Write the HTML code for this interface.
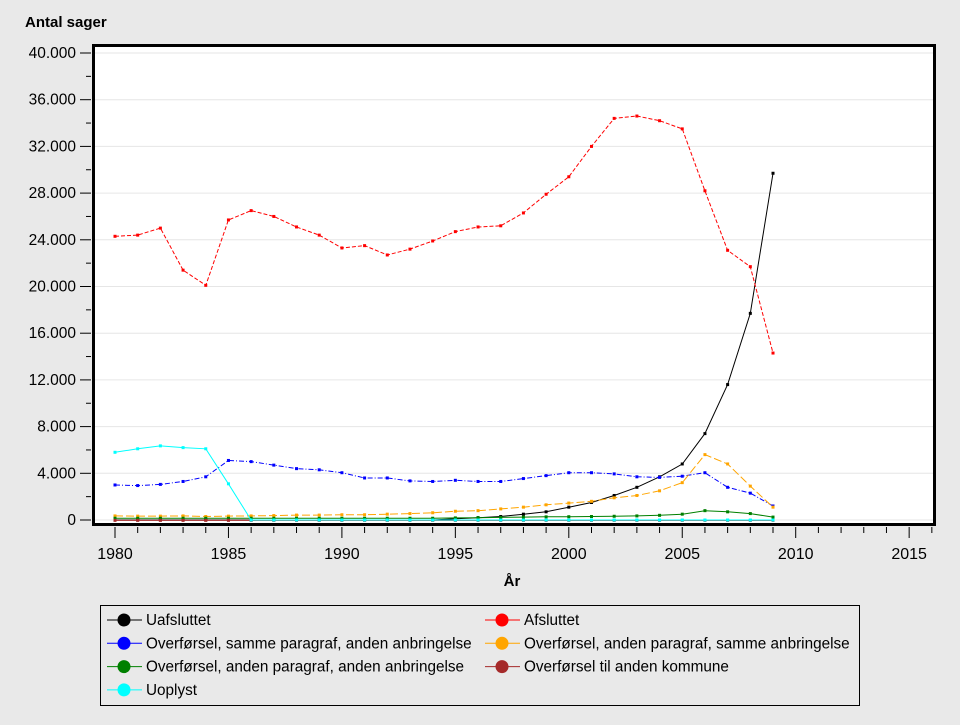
<!DOCTYPE html><html><head><style>body{margin:0;background:#e9e9e9;font-family:"Liberation Sans",sans-serif}</style></head><body>
<svg id="s" width="960" height="720" xmlns="http://www.w3.org/2000/svg" font-family="Liberation Sans, sans-serif">
<rect width="960" height="720" fill="#e9e9e9"/>
<text x="25" y="27" font-size="15" font-weight="bold">Antal sager</text>
<rect x="93.5" y="45.5" width="841" height="479" fill="#fff" stroke="#000" stroke-width="3"/>
<g id="g"></g>
<text x="512" y="586" font-size="15" font-weight="bold" text-anchor="middle">År</text>
<rect x="100.5" y="605.5" width="759" height="100" fill="#e9e9e9" stroke="#000"/>
<g id="lg" font-size="15.3"></g>
</svg>
<script>
const g=document.getElementById('g'),lg=document.getElementById('lg');
const X=y=>115+(y-1980)*22.69,Y=v=>520-v*11.675;
let h='';
for(let i=0;i<=10;i++){let y=Y(i*4);h+=`<line x1="95" x2="933" y1="${y}" y2="${y}" stroke="#e6e6e6"/><line x1="80" x2="91" y1="${y}" y2="${y}" stroke="#000"/><text x="76" y="${y+5}" font-size="15.5" text-anchor="end">${i==0?'0':(i*4)+'.000'}</text>`;
 if(i<10){let y2=Y(i*4+2);h+=`<line x1="86" x2="91" y1="${y2}" y2="${y2}" stroke="#000"/>`;}}
for(let yr=1980;yr<=2016;yr++){let x=X(yr);let big=yr%5==0;h+=`<line x1="${x}" x2="${x}" y1="527" y2="${big?538:533}" stroke="#000"/>`;if(big)h+=`<text x="${x}" y="559" font-size="16" text-anchor="middle">${yr}</text>`;}
const S=[
['#000','',[0,0,0,0,0,0,0,0,0,0,0,0,0,0,0,0.1,0.2,0.3,0.5,0.7,1.1,1.5,2.1,2.8,3.7,4.8,7.4,11.6,17.7,29.7]],
['#f00','4,2',[24.3,24.4,25.0,21.4,20.1,25.7,26.5,26.0,25.1,24.4,23.3,23.5,22.7,23.2,23.9,24.7,25.1,25.2,26.3,27.9,29.4,32.0,34.4,34.6,34.2,33.5,28.2,23.1,21.7,14.3]],
['#00f','5,2,1,2',[3.0,2.95,3.05,3.3,3.7,5.1,5.0,4.7,4.4,4.3,4.05,3.6,3.6,3.35,3.3,3.4,3.3,3.3,3.55,3.8,4.05,4.05,3.95,3.7,3.65,3.75,4.05,2.8,2.3,1.2]],
['#ffa500','8,3',[0.35,0.33,0.33,0.35,0.3,0.33,0.35,0.38,0.42,0.42,0.45,0.45,0.5,0.55,0.62,0.75,0.8,0.95,1.1,1.3,1.45,1.6,1.9,2.1,2.5,3.2,5.6,4.8,2.9,1.1]],
['#008000','',[0.15,0.15,0.15,0.15,0.15,0.15,0.15,0.15,0.15,0.15,0.15,0.15,0.15,0.15,0.15,0.18,0.2,0.22,0.25,0.27,0.28,0.3,0.32,0.35,0.4,0.5,0.8,0.7,0.55,0.25]],
['#a52a2a','',Array(30).fill(-0.03)],
['#0ff','',[5.8,6.1,6.35,6.2,6.1,3.1,0,0,0,0,0,0,0,0,0,0,0,0,0,0,0,0,0,0,0,0,0,0,0,0]]];
for(const [c,d,v] of S){let p=v.map((a,i)=>X(1980+i).toFixed(1)+','+Y(a).toFixed(1)).join(' ');
h+=`<polyline points="${p}" fill="none" stroke="${c}" stroke-width="1" ${d?`stroke-dasharray="${d}"`:''}/>`;
v.forEach((a,i)=>h+=`<rect x="${X(1980+i)-1.5}" y="${Y(a)-1.5}" width="3" height="3" fill="${c}"/>`);}
g.innerHTML=h;
const L=[['Uafsluttet','#000',0,0],['Afsluttet','#f00',1,0],['Overførsel, samme paragraf, anden anbringelse','#00f',0,1],['Overførsel, anden paragraf, samme anbringelse','#ffa500',1,1],['Overførsel, anden paragraf, anden anbringelse','#008000',0,2],['Overførsel til anden kommune','#a52a2a',1,2],['Uoplyst','#0ff',0,3]];
let l='';for(const [t,c,col,r] of L){let x=col?485:107,y=620+r*23.3;
l+=`<line x1="${x}" x2="${x+35}" y1="${y}" y2="${y}" stroke="${c}"/><circle cx="${x+17}" cy="${y}" r="6.5" fill="${c}"/><text x="${x+39}" y="${y+5}">${t}</text>`;}
lg.innerHTML=l;
</script></body></html>
